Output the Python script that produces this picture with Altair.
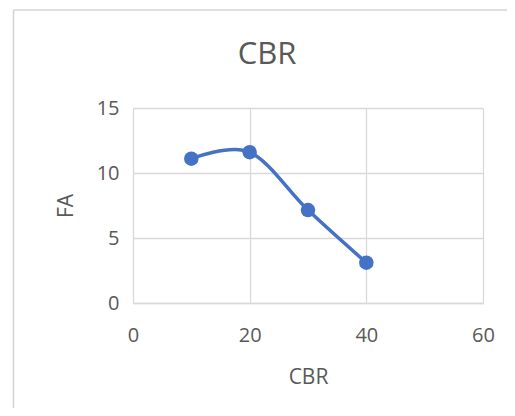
import altair as alt
import pandas as pd

cbr = [10, 20, 30, 40]
fa = [11.1, 11.6, 7.15, 3.1]
x_ticks = [0, 20, 40, 60]
y_ticks = [0, 5, 10, 15]

df = pd.DataFrame({"CBR": cbr, "FA": fa})
one = pd.DataFrame({"a": [0]})

FONT = "Open Sans"
TXT = "#595959"
GRID = "#d9d9d9"
BLUE = "#4472C4"

W, H = 350, 195
PL, PT = 125, 100

x_enc = alt.X(
    "CBR:Q",
    scale=alt.Scale(domain=[0, 60], nice=False, zero=False),
    axis=alt.Axis(
        values=x_ticks, title="CBR", grid=True, gridColor=GRID, gridWidth=1.3,
        domain=True, domainColor=GRID, domainWidth=1.3, ticks=False, labelFlush=False,
        labelFont=FONT, labelFontSize=20, labelColor=TXT, labelPadding=22,
        titleFont=FONT, titleFontSize=21, titleColor=TXT, titleFontWeight="normal",
        titleX=W / 2, titleY=80, titleBaseline="alphabetic",
    ),
)
y_enc = alt.Y(
    "FA:Q",
    scale=alt.Scale(domain=[0, 15], nice=False, zero=False),
    axis=alt.Axis(
        values=y_ticks, title="FA", grid=True, gridColor=GRID, gridWidth=1.3,
        domain=False, ticks=False, labelFlush=False,
        labelFont=FONT, labelFontSize=20, labelColor=TXT, labelPadding=14,
        titleFont=FONT, titleFontSize=21, titleColor=TXT, titleFontWeight="normal",
        titleAngle=-90, titleX=-61, titleY=H / 2, titleBaseline="alphabetic",
    ),
)

line = alt.Chart(df).mark_line(
    interpolate="cardinal", color=BLUE, strokeWidth=3.5
).encode(x=x_enc, y=y_enc)

pts = alt.Chart(df).mark_circle(color=BLUE, size=210, opacity=1).encode(x="CBR:Q", y="FA:Q")

frame_left = alt.Chart(one).mark_rule(color="#d4d4d4", strokeWidth=1.5).encode(
    x=alt.value(13.5 - 8 - PL), y=alt.value(-PT + 2), y2=alt.value(400 - PT)
)
frame_top = alt.Chart(one).mark_rule(color="#d4d4d4", strokeWidth=1.5).encode(
    x=alt.value(13.5 - 8 - PL), x2=alt.value(499 - PL), y=alt.value(10 - 8 - PT)
)
title = alt.Chart(one).mark_text(
    text="CBR", font=FONT, fontSize=31, color=TXT, baseline="alphabetic", align="center"
).encode(x=alt.value(267 - 8 - PL), y=alt.value(64 - 8 - PT))

chart = alt.layer(frame_left, frame_top, line, pts, title).properties(
    width=W, height=H,
    autosize=alt.AutoSizeParams(type="none"),
    padding={"left": PL, "top": PT, "right": 499 - PL - W, "bottom": 400 - PT - H},
).configure_view(stroke=None)

chart.save("out.html", embed_options={"renderer": "svg", "actions": False})
